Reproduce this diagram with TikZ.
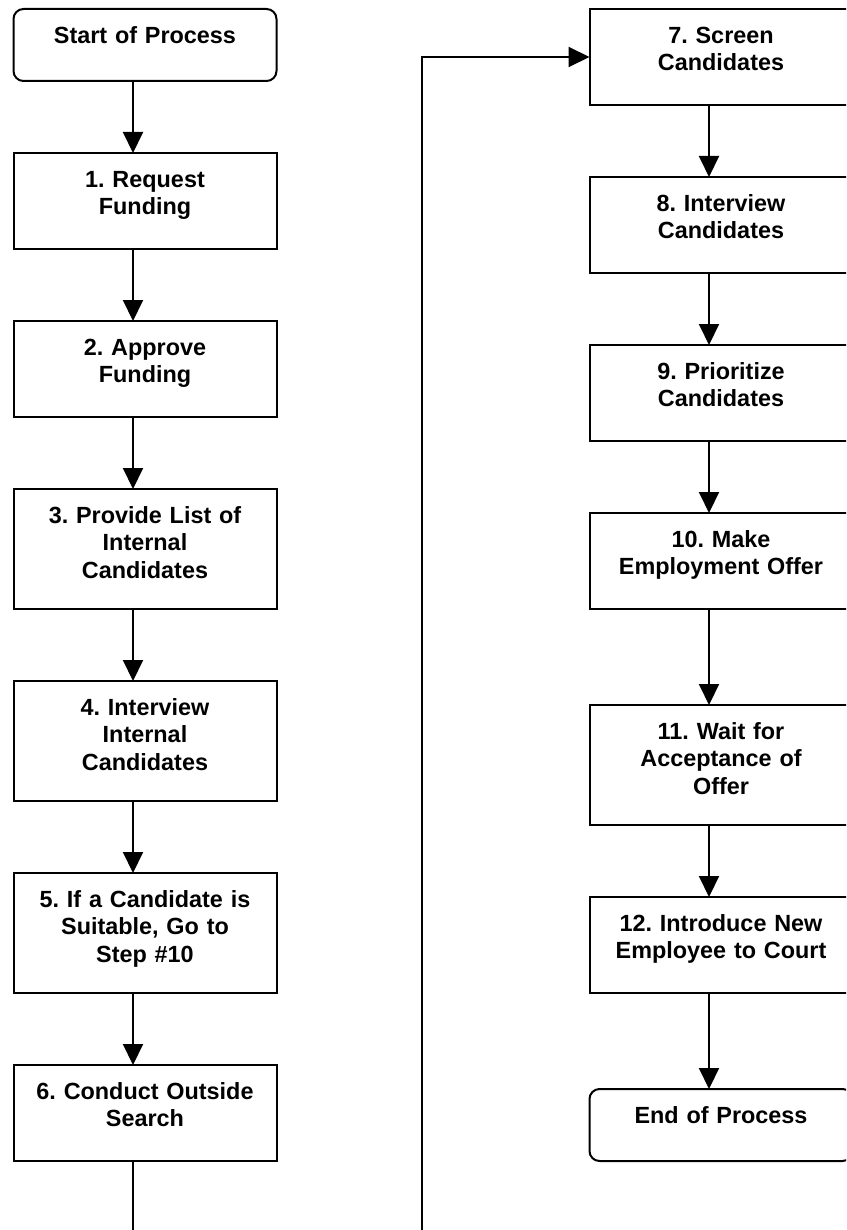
\documentclass[tikz,border=0pt]{standalone}
\usepackage{fontspec}
\setmainfont{Liberation Sans}
\frenchspacing
\usepackage{tikz}
\usetikzlibrary{positioning,arrows.meta}
\tikzstyle{stepbox} = [draw=black, fill=white, line width=1pt,
    rectangle, inner sep=0pt, outer sep=0pt, text width=131.5pt, align=center,
    font=\bfseries\fontsize{11.7}{13.7}\selectfont,
    text height=17.2pt, text depth=30.8pt]
\tikzstyle{tallbox} = [stepbox, text depth=42.8pt]
\tikzstyle{termbox} = [stepbox, rounded corners=5pt, text depth=18.8pt]
\tikzstyle{flowline} = [line width=1pt, -{Triangle[length=10.5pt,width=10pt]}]

\begin{document}
\begin{tikzpicture}[x=0.5pt, y=-0.5pt]
    \useasboundingbox (0,0) rectangle (846,1230);
    \clip (0,0) rectangle (846,1230);
    % left column
    \node [termbox, anchor=north] (start) at (145,9) {Start of Process};
    \node [stepbox, below=36pt of start] (s1) {1. Request\\Funding};
    \node [stepbox, below=36pt of s1] (s2) {2. Approve\\Funding};
    \node [tallbox, below=36pt of s2] (s3) {3. Provide List of\\Internal\\Candidates};
    \node [tallbox, below=36pt of s3] (s4) {4. Interview\\Internal\\Candidates};
    \node [tallbox, below=36pt of s4] (s5) {5. If a Candidate is\\Suitable, Go to\\Step \#10};
    \node [stepbox, below=36pt of s5] (s6) {6. Conduct Outside\\Search};
    % right column
    \node [stepbox, anchor=north] (s7) at (721,9) {7. Screen\\Candidates};
    \node [stepbox, below=36pt of s7] (s8) {8. Interview\\Candidates};
    \node [stepbox, below=36pt of s8] (s9) {9. Prioritize\\Candidates};
    \node [stepbox, below=36pt of s9] (s10) {10. Make\\Employment Offer};
    \node [tallbox, below=48pt of s10] (s11) {11. Wait for\\Acceptance of\\Offer};
    \node [stepbox, below=36pt of s11] (s12) {12. Introduce New\\Employee to Court};
    \node [termbox, below=48pt of s12] (end) {End of Process};
    % connectors
    \foreach \a/\b in {start/s1, s1/s2, s2/s3, s3/s4, s4/s5, s5/s6,
        s7/s8, s8/s9, s9/s10, s10/s11, s11/s12, s12/end}
        \draw [flowline] ([xshift=-6pt]\a.south) -- ([xshift=-6pt]\b.north);
    \draw [flowline] ([xshift=-6pt]s6.south) |- (422,1300) |- (s7.west);
\end{tikzpicture}
\end{document}
